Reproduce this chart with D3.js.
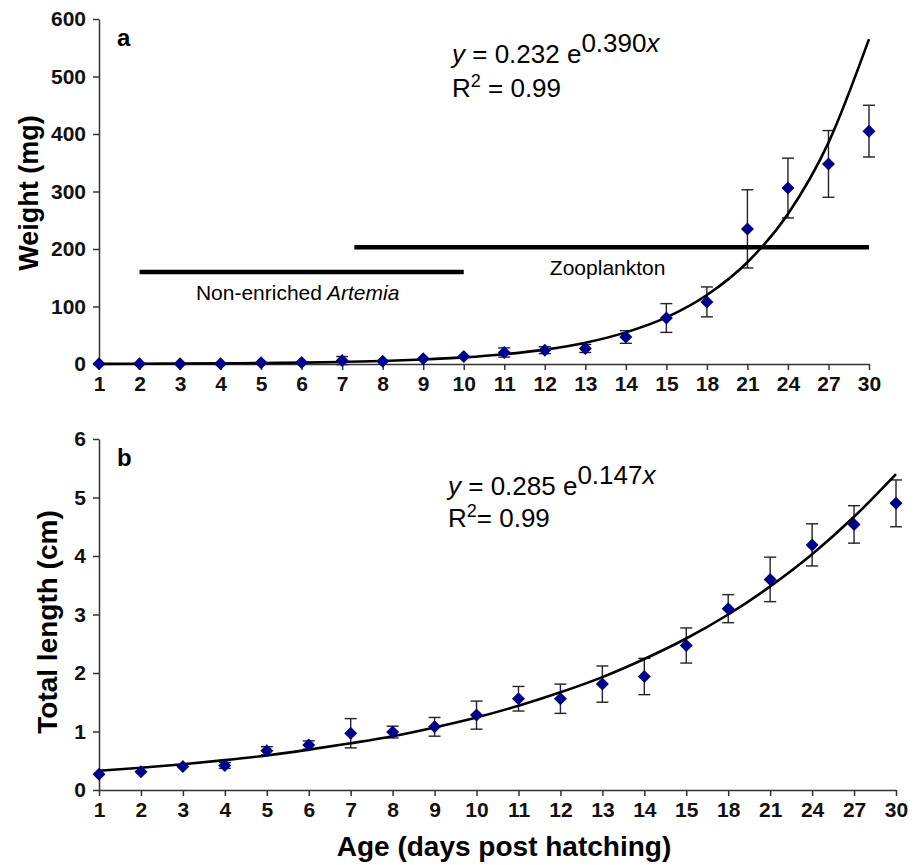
<!DOCTYPE html>
<html>
<head>
<meta charset="utf-8">
<script src="https://cdn.jsdelivr.net/npm/d3@7"></script>
<style>
  body { margin: 0; background: #fff; }
  svg { font-family: "Liberation Sans", Arial, sans-serif; }
  .axis path, .axis line { stroke: #333; stroke-width: 1.5; }
  .axis text { font-size: 21px; font-weight: bold; fill: #111; }
</style>
</head>
<body>
<svg width="917" height="865"></svg>
<script>
// x categories (days post hatching), evenly spaced as in the original
const days = [1, 2, 3, 4, 5, 6, 7, 8, 9, 10, 11, 12, 13, 14, 15, 18, 21, 24, 27, 30]

// panel a: weight (mg)
const weightMean = [0.3, 0.4, 0.5, 0.6, 2, 2.5, 6, 5, 9, 13, 20, 24, 27, 47, 80, 108, 235, 306, 348, 405]
const weightErr  = [0, 0, 0, 0, 1, 1, 7, 2, 3, 3, 8, 6, 7, 11, 25, 26, 68, 52, 58, 45]
const weightFit  = [0.3, 0.5, 0.8, 1.1, 1.6, 2.4, 3.6, 5.3, 7.8, 11.5, 17, 25, 37, 55, 81, 120, 177, 261, 385, 565]
const weightTicks = [0, 100, 200, 300, 400, 500, 600]

// feeding periods drawn in panel a (start/end in category position, level in mg)
const feedNames = ["Non-enriched", "Zooplankton"]
const feedItalic = [" Artemia", ""]
const feedStart = [2, 7.3]
const feedEnd = [10, 20]
const feedLevel = [160, 203]

// panel b: total length (cm)
const lengthMean = [0.27, 0.31, 0.4, 0.42, 0.67, 0.77, 0.97, 0.99, 1.08, 1.28, 1.56, 1.56, 1.81, 1.94, 2.47, 3.1, 3.6, 4.19, 4.54, 4.9]
const lengthErr  = [0.03, 0.03, 0.03, 0.05, 0.07, 0.07, 0.25, 0.1, 0.16, 0.24, 0.21, 0.25, 0.31, 0.31, 0.3, 0.24, 0.38, 0.36, 0.32, 0.4]
const lengthFit  = [0.33, 0.38, 0.44, 0.51, 0.59, 0.69, 0.8, 0.92, 1.07, 1.24, 1.44, 1.67, 1.93, 2.24, 2.59, 3.0, 3.48, 4.03, 4.67, 5.4]
const lengthTicks = [0, 1, 2, 3, 4, 5, 6]

const svg = d3.select("svg")
svg.append("rect").attr("width", 917).attr("height", 865).attr("fill", "#fff")

const idx = days.map((d, i) => i + 1)

function panel(o) {
  const x = d3.scaleLinear().domain([1, 20]).range([o.left, o.right])
  const y = d3.scaleLinear().domain([0, o.yMax]).range([o.bottom, o.top])

  svg.append("g")
    .attr("class", "axis")
    .attr("transform", `translate(0, ${o.bottom})`)
    .call(d3.axisBottom(x).tickValues(idx).tickFormat(i => days[i - 1])
      .tickSizeInner(6).tickSizeOuter(0).tickPadding(6))

  svg.append("g")
    .attr("class", "axis")
    .attr("transform", `translate(${o.left}, 0)`)
    .call(d3.axisLeft(y).tickValues(o.ticks).tickFormat(d3.format("d"))
      .tickSizeInner(6).tickSizeOuter(0).tickPadding(7))

  // y title
  svg.append("text")
    .attr("transform", `translate(${o.titleX}, ${o.titleY}) rotate(-90)`)
    .attr("text-anchor", "middle")
    .style("font-size", o.titleSize).style("font-weight", "bold")
    .text(o.title)

  // panel letter
  svg.append("text")
    .attr("x", o.left + 18).attr("y", o.top + 27)
    .style("font-size", "24px").style("font-weight", "bold")
    .text(o.letter)

  // error bars
  const eb = svg.append("g").attr("stroke", "#222").attr("stroke-width", 1.4)
  o.mean.forEach((m, i) => {
    const e = o.err[i]
    if (y(m - e) - y(m + e) < 4) return
    const cx = x(i + 1)
    eb.append("line").attr("x1", cx).attr("x2", cx).attr("y1", y(m - e)).attr("y2", y(m + e))
    eb.append("line").attr("x1", cx - 6).attr("x2", cx + 6).attr("y1", y(m + e)).attr("y2", y(m + e))
    eb.append("line").attr("x1", cx - 6).attr("x2", cx + 6).attr("y1", y(m - e)).attr("y2", y(m - e))
  })

  // fitted curve
  svg.append("path")
    .datum(o.fit)
    .attr("fill", "none").attr("stroke", "#000").attr("stroke-width", 2.6)
    .attr("d", d3.line().x((d, i) => x(i + 1)).y(d => y(d)).curve(d3.curveMonotoneX))

  // markers
  svg.append("g").selectAll("path")
    .data(o.mean)
    .enter()
    .append("path")
    .attr("transform", (d, i) => `translate(${x(i + 1)}, ${y(d)})`)
    .attr("d", "M0,-6.5L6.5,0L0,6.5L-6.5,0Z")
    .attr("fill", "#000088")

  // equation
  const eq = svg.append("text").attr("x", o.eqX).attr("y", o.eqY).style("font-size", "26px")
  eq.append("tspan").style("font-style", "italic").text("y")
  eq.append("tspan").text(" = " + o.coef + " e")
  eq.append("tspan").attr("dy", -11).text(o.rate)
  eq.append("tspan").style("font-style", "italic").text("x")

  const r2 = svg.append("text").attr("x", o.eqX).attr("y", o.eqY + o.r2Gap).style("font-size", "26px")
  r2.append("tspan").text("R")
  r2.append("tspan").attr("dy", -10).style("font-size", "18px").text("2")
  r2.append("tspan").attr("dy", 10).text(o.r2)

  return {x, y}
}

const a = panel({
  left: 99, right: 869, top: 19, bottom: 364, yMax: 600, ticks: weightTicks,
  mean: weightMean, err: weightErr, fit: weightFit,
  title: "Weight (mg)", titleX: 38, titleY: 193, titleSize: "27px", letter: "a",
  eqX: 452, eqY: 63, r2Gap: 34, coef: "0.232", rate: "0.390", r2: " = 0.99"
})

// feeding period bars and labels
feedNames.forEach((name, i) => {
  svg.append("line")
    .attr("x1", a.x(feedStart[i])).attr("x2", a.x(feedEnd[i]))
    .attr("y1", a.y(feedLevel[i])).attr("y2", a.y(feedLevel[i]))
    .attr("stroke", "#000").attr("stroke-width", 4.5)
  const t = svg.append("text")
    .attr("x", a.x((feedStart[i] + feedEnd[i]) / 2) - 4)
    .attr("y", a.y(feedLevel[i]) + 28)
    .attr("text-anchor", "middle")
    .style("font-size", "21px")
  t.append("tspan").text(name)
  if (feedItalic[i]) t.append("tspan").style("font-style", "italic").text(feedItalic[i])
})

panel({
  left: 99, right: 896, top: 439, bottom: 790, yMax: 6, ticks: lengthTicks,
  mean: lengthMean, err: lengthErr, fit: lengthFit,
  title: "Total length (cm)", titleX: 57, titleY: 622, titleSize: "28px", letter: "b",
  eqX: 448, eqY: 495, r2Gap: 32, coef: "0.285", rate: "0.147", r2: "= 0.99"
})

svg.append("text")
  .attr("x", 504).attr("y", 856)
  .attr("text-anchor", "middle")
  .style("font-size", "28px").style("font-weight", "bold")
  .text("Age (days post hatching)")
</script>
</body>
</html>
